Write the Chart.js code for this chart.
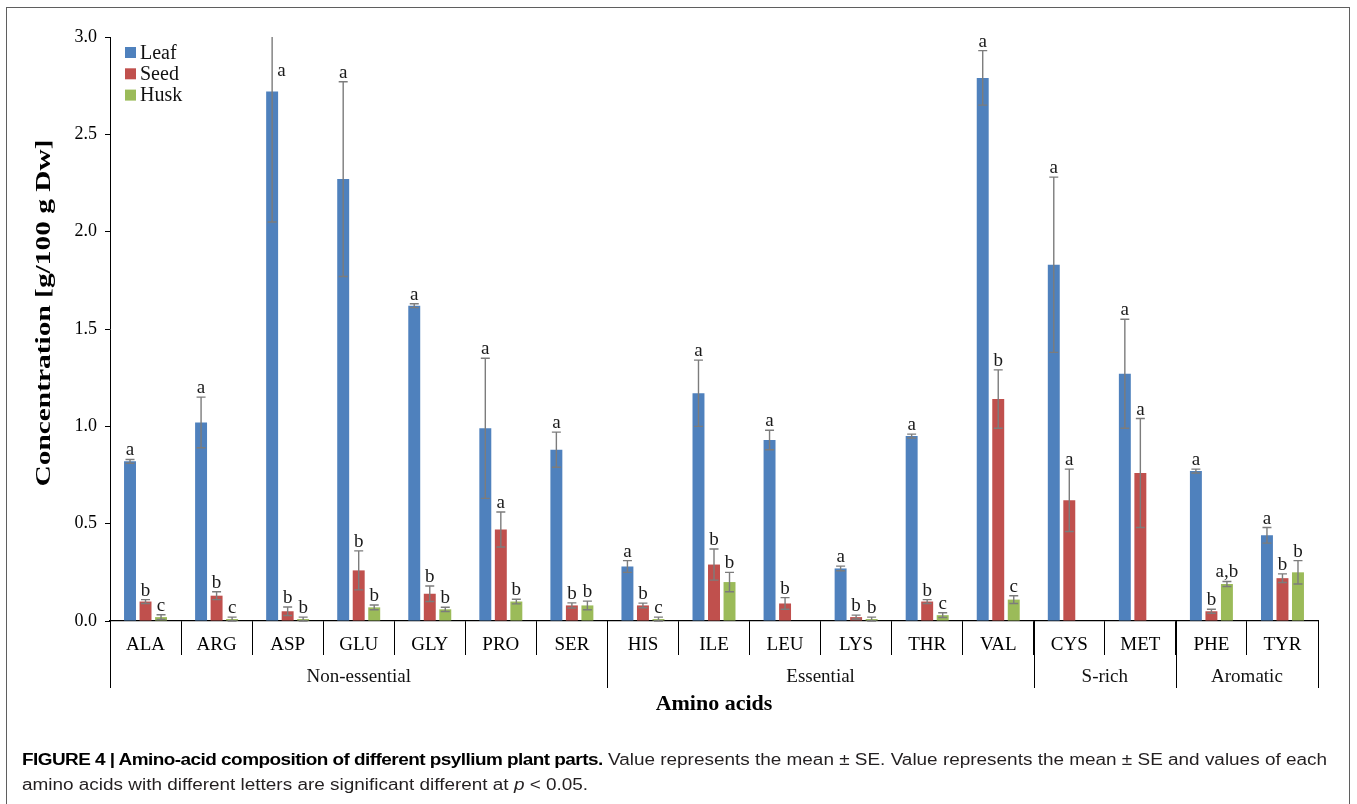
<!DOCTYPE html>
<html>
<head>
<meta charset="utf-8">
<script src="https://cdn.jsdelivr.net/npm/chart.js@4.4.1/dist/chart.umd.min.js"></script>
<style>
  html, body { margin: 0; padding: 0; background: #fff; }
  #wrap { position: relative; width: 1357px; height: 804px; overflow: hidden; }
  #frame { position: absolute; left: 6px; top: 7px; width: 1342px; height: 840px;
           border: 1.5px solid #5f5f5f; border-bottom: none; }
  canvas { position: absolute; left: 0; top: 0; }
  .cap { position: absolute; left: 22px; font-family: "Liberation Sans", Arial, sans-serif;
         font-size: 16px; line-height: 18px; color: #231f20; white-space: nowrap; transform-origin: 0 0; }
  .cap b { color: #000; letter-spacing: -0.45px; }
</style>
</head>
<body>
<div id="wrap">
  <div id="frame"></div>
  <canvas id="c" width="1357" height="804"></canvas>
  <div class="cap" id="cap1" style="top:751px"><b>FIGURE 4 | Amino-acid composition of different psyllium plant parts.</b> Value represents the mean ± SE. Value represents the mean ± SE and values of each</div>
  <div class="cap" id="cap2" style="top:776px">amino acids with different letters are significant different at <i>p</i> &lt; 0.05.</div>
</div>
<script>
// Amino acids on the category axis
const categories = ['ALA', 'ARG', 'ASP', 'GLU', 'GLY', 'PRO', 'SER',
                    'HIS', 'ILE', 'LEU', 'LYS', 'THR', 'VAL',
                    'CYS', 'MET', 'PHE', 'TYR'];

// Amino-acid classes and how many acids each spans (in category order)
const groupNames = ['Non-essential', 'Essential', 'S-rich', 'Aromatic'];
const groupSizes = [7, 6, 2, 2];

// Mean concentration (g/100 g Dw) and standard error per plant part
const leafMean = [0.82, 1.02, 2.72, 2.27, 1.62, 0.99, 0.88, 0.28, 1.17, 0.93, 0.27, 0.95, 2.79, 1.83, 1.27, 0.77, 0.44];
const leafSE   = [0.01, 0.13, 0.67, 0.50, 0.01, 0.36, 0.09, 0.03, 0.17, 0.05, 0.012, 0.01, 0.14, 0.45, 0.28, 0.01, 0.04];
const seedMean = [0.10, 0.13, 0.05, 0.26, 0.14, 0.47, 0.08, 0.08, 0.29, 0.09, 0.02, 0.10, 1.14, 0.62, 0.76, 0.05, 0.22];
const seedSE   = [0.01, 0.02, 0.022, 0.10, 0.04, 0.09, 0.013, 0.012, 0.08, 0.03, 0.01, 0.01, 0.15, 0.16, 0.28, 0.01, 0.022];
const huskMean = [0.02, 0.01, 0.01, 0.07, 0.06, 0.10, 0.08, 0.01, 0.20, null, 0.01, 0.03, 0.11, null, null, 0.19, 0.25];
const huskSE   = [0.012, 0.01, 0.01, 0.012, 0.011, 0.012, 0.022, 0.01, 0.05, null, 0.01, 0.012, 0.02, null, null, 0.013, 0.06];

// Significance letters above each bar
const leafLetters = ['a','a','a','a','a','a','a','a','a','a','a','a','a','a','a','a','a'];
const seedLetters = ['b','b','b','b','b','a','b','b','b','b','b','b','b','a','a','b','b'];
const huskLetters = ['c','c','b','b','b','b','b','c','b','','b','c','c','','','a,b','b'];

// Y axis range
const yMin = 0, yMax = 3.0, yStep = 0.5;

const SERIF = '"Liberation Serif", "Times New Roman", serif';

// Error bars, letters, class brackets, titles and legend
const decorations = {
  id: 'decorations',
  afterDatasetsDraw(chart) {
    const { ctx, chartArea, scales: { y } } = chart;
    ctx.save();
    chart.data.datasets.forEach((ds, di) => {
      const meta = chart.getDatasetMeta(di);
      meta.data.forEach((bar, i) => {
        const v = ds.data[i];
        if (v == null) return;
        const se = ds.se[i] || 0;
        const cx = bar.x;
        const yHi = y.getPixelForValue(v + se);
        const yLo = y.getPixelForValue(v - se);
        const clipped = yHi < chartArea.top;
        const top = clipped ? chartArea.top : yHi;
        ctx.strokeStyle = '#7c7c7c';
        ctx.lineWidth = 1.4;
        ctx.beginPath();
        ctx.moveTo(cx, top); ctx.lineTo(cx, yLo);
        ctx.moveTo(cx - 4.5, yLo); ctx.lineTo(cx + 4.5, yLo);
        if (!clipped) { ctx.moveTo(cx - 4.5, yHi); ctx.lineTo(cx + 4.5, yHi); }
        ctx.stroke();
        const letter = ds.letters[i];
        if (letter) {
          ctx.fillStyle = '#1a1a1a';
          ctx.font = '19px ' + SERIF;
          ctx.textBaseline = 'alphabetic';
          if (clipped) {
            ctx.textAlign = 'left';
            ctx.fillText(letter, cx + 5, chartArea.top + 39);
          } else {
            ctx.textAlign = 'center';
            ctx.fillText(letter, cx, yHi - 4);
          }
        }
      });
    });
    ctx.restore();
  },
  afterDraw(chart) {
    const { ctx, chartArea, scales: { x } } = chart;
    ctx.save();
    // class brackets below the category labels
    const half = (x.getPixelForValue(1) - x.getPixelForValue(0)) / 2;
    let start = 0;
    ctx.strokeStyle = '#000';
    ctx.lineWidth = 1;
    ctx.fillStyle = '#111';
    ctx.font = '19px ' + SERIF;
    ctx.textAlign = 'center';
    ctx.textBaseline = 'middle';
    const edges = [x.getPixelForValue(0) - half];
    groupSizes.forEach((n, gi) => {
      const left = x.getPixelForValue(start) - half;
      const right = x.getPixelForValue(start + n - 1) + half;
      edges.push(right);
      ctx.fillText(groupNames[gi], (left + right) / 2, chartArea.bottom + 56);
      start += n;
    });
    ctx.beginPath();
    edges.forEach(e => {
      const xe = Math.round(e) + 0.5;
      ctx.moveTo(xe, chartArea.bottom);
      ctx.lineTo(xe, chartArea.bottom + 67);
    });
    ctx.stroke();

    // axis titles
    ctx.fillStyle = '#000';
    ctx.font = 'bold 22px ' + SERIF;
    ctx.textAlign = 'center';
    ctx.textBaseline = 'middle';
    ctx.fillText('Amino acids', (chartArea.left + chartArea.right) / 2, chartArea.bottom + 83);

    const yTitle = 'Concentration [g/100 g Dw]';
    ctx.font = 'bold 20px ' + SERIF;
    const w = ctx.measureText(yTitle).width;
    ctx.translate(45, 313);
    ctx.rotate(-Math.PI / 2);
    ctx.scale(347 / w, 1);
    ctx.fillText(yTitle, 0, 0);
    ctx.setTransform(1, 0, 0, 1, 0, 0);

    // legend in the upper-left corner of the plot
    ctx.font = '20px ' + SERIF;
    ctx.textAlign = 'left';
    ctx.textBaseline = 'middle';
    chart.data.datasets.forEach((ds, di) => {
      const cy = chartArea.top + 15.5 + di * 21.3;
      ctx.fillStyle = ds.backgroundColor;
      ctx.fillRect(chartArea.left + 15, cy - 5.5, 11, 11);
      ctx.fillStyle = '#111';
      ctx.fillText(ds.label, chartArea.left + 30, cy + 1);
    });
    ctx.restore();
  }
};

new Chart(document.getElementById('c'), {
  type: 'bar',
  data: {
    labels: categories,
    datasets: [
      { label: 'Leaf', data: leafMean, se: leafSE, letters: leafLetters, backgroundColor: '#4f81bd' },
      { label: 'Seed', data: seedMean, se: seedSE, letters: seedLetters, backgroundColor: '#c0504d' },
      { label: 'Husk', data: huskMean, se: huskSE, letters: huskLetters, backgroundColor: '#9bbb59' }
    ]
  },
  options: {
    responsive: false,
    animation: false,
    devicePixelRatio: 1,
    layout: { padding: { left: 0, right: 39, top: 37, bottom: 0 } },
    datasets: { bar: { categoryPercentage: 0.655, barPercentage: 0.77 } },
    plugins: { legend: { display: false }, tooltip: { enabled: false } },
    scales: {
      x: {
        grid: { display: true, drawOnChartArea: false, drawTicks: true, tickLength: 34, offset: true, color: '#000', lineWidth: 1 },
        border: { display: true, color: '#000', width: 1.2 },
        ticks: { padding: -21, autoSkip: false, maxRotation: 0, color: '#000', font: { family: SERIF, size: 19 } },
        afterFit(s) { s.height = 183; }
      },
      y: {
        min: yMin, max: yMax,
        grid: { drawOnChartArea: false, drawTicks: true, tickLength: 5, color: '#000' },
        border: { display: true, color: '#000', width: 1 },
        ticks: { stepSize: yStep, padding: 8, color: '#000', font: { family: SERIF, size: 18 },
                 callback: v => Number(v).toFixed(1) },
        afterFit(s) { s.width = 110; }
      }
    }
  },
  plugins: [decorations]
});

// fit each caption line to the figure width
const capWidth = 1305;
const c1 = document.getElementById('cap1'), c2 = document.getElementById('cap2');
const k = capWidth / c1.getBoundingClientRect().width;
c1.style.transform = 'scaleX(' + k + ')';
c2.style.transform = 'scaleX(' + k + ')';
</script>
</body>
</html>
